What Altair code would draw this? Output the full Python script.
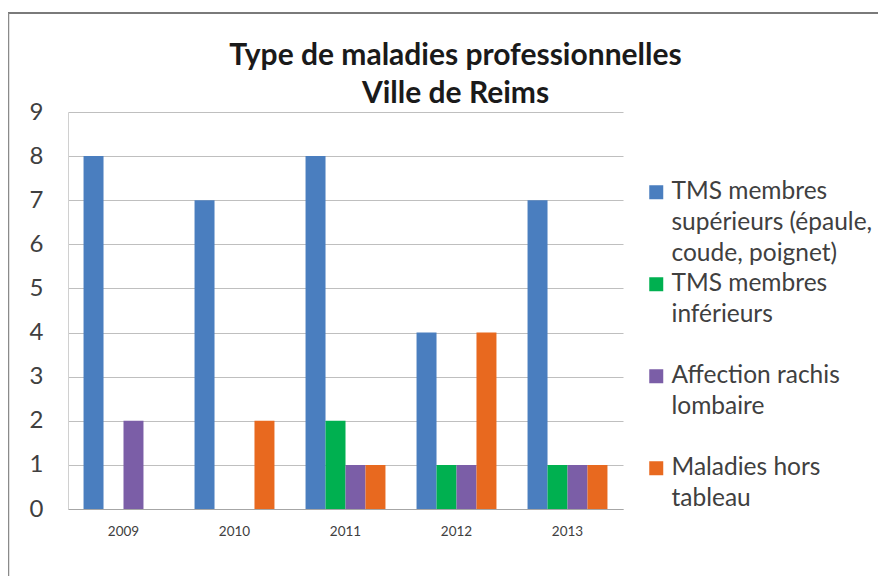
import altair as alt
import pandas as pd

years = ["2009", "2010", "2011", "2012", "2013"]
series = [
    "TMS membres|supérieurs (épaule,|coude, poignet)",
    "TMS membres|inférieurs| ",
    "Affection rachis|lombaire| ",
    "Maladies hors|tableau| ",
]
colors = ["#4a7ebf", "#00b050", "#7b5ea7", "#e8691f"]
tms_sup = [8, 7, 8, 4, 7]
tms_inf = [0, 0, 2, 1, 1]
rachis = [2, 0, 1, 1, 1]
hors_tableau = [0, 2, 1, 4, 1]

rows = []
for i, y in enumerate(years):
    for s, vals in zip(series, [tms_sup, tms_inf, rachis, hors_tableau]):
        rows.append({"annee": y, "type": s, "valeur": vals[i]})
df = pd.DataFrame(rows)

FONT = "Lato"

bars = alt.Chart(df).mark_bar().encode(
    x=alt.X("annee:N", sort=years, title=None,
            scale=alt.Scale(paddingInner=0.28, paddingOuter=0.14),
            axis=alt.Axis(labelAngle=0, labelFontSize=13.5, labelColor="#404040",
                          labelFont=FONT, ticks=False, labelPadding=15,
                          domainColor="#a6a6a6", grid=False)),
    xOffset=alt.XOffset("type:N", sort=series, scale=alt.Scale(paddingInner=0, paddingOuter=0)),
    y=alt.Y("valeur:Q", title=None,
            scale=alt.Scale(domain=[0, 9], nice=False),
            axis=alt.Axis(values=list(range(10)), labelFontSize=24, labelColor="#404040",
                          labelFont=FONT, ticks=False, labelPadding=25,
                          domainColor="#d0d0d0", gridColor="#bfbfbf", gridWidth=1)),
    color=alt.Color("type:N", sort=series,
                    scale=alt.Scale(domain=series, range=colors),
                    legend=alt.Legend(orient="none", legendX=576, legendY=68,
                                      title=None, symbolType="square", symbolSize=196,
                                      symbolStrokeWidth=0, labelFont=FONT, labelFontSize=24.5,
                                      labelColor="#404040", labelLimit=300,
                                      labelExpr="split(datum.label, '|')",
                                      rowPadding=5, padding=0, labelOffset=3)),
)

frame_top = alt.Chart(pd.DataFrame({"k": [0]})).mark_rule(color="#7a7a7a", strokeWidth=2).encode(
    x=alt.value(-60), x2=alt.value(812), y=alt.value(-99)
)
frame_left = alt.Chart(pd.DataFrame({"k": [0]})).mark_rule(color="#8a8a8a", strokeWidth=1.5).encode(
    x=alt.value(-59.5), y=alt.value(-99), y2=alt.value(480)
)

chart = alt.layer(bars, frame_top, frame_left).properties(
    width=555, height=397,
    padding={"left": 60, "top": 104, "right": 255, "bottom": 67},
    autosize=alt.AutoSizeParams(type="none"),
    title=alt.Title(["Type de maladies professionnelles", "Ville de Reims"],
                    font=FONT, fontSize=30, fontWeight="bold", color="#1a1a1a",
                    anchor="middle", frame="group", baseline="bottom",
                    dx=110, dy=127, offset=0, lineHeight=38),
)
chart.config = alt.Config(
    view=alt.ViewConfig(stroke=None),
    style={"guide-label": {"lineHeight": 31}},
)

chart.save("out.html", embed_options={"renderer": "svg", "actions": False})
